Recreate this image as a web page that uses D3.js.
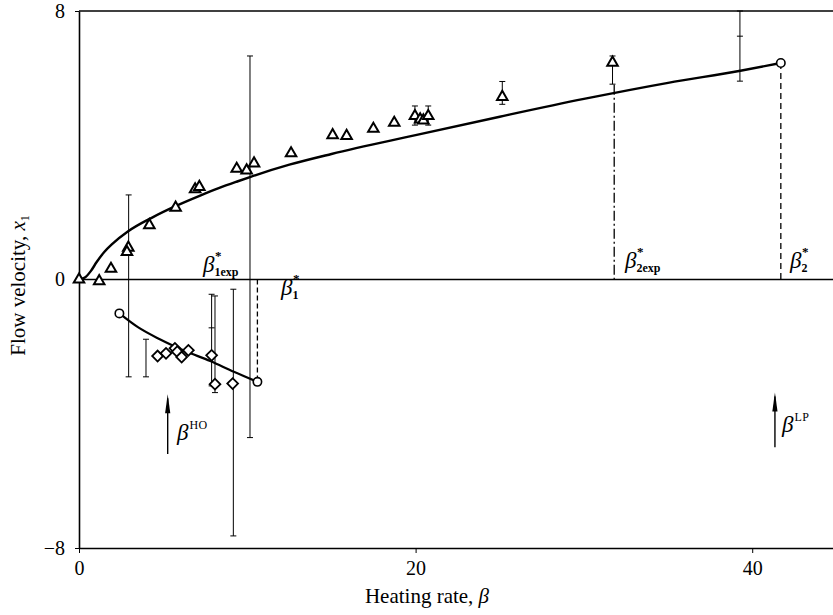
<!DOCTYPE html>
<html>
<head>
<meta charset="utf-8">
<script src="https://cdn.jsdelivr.net/npm/d3@7"></script>
<style>
  body { margin: 0; background: #fff; }
  svg { font-family: "Liberation Serif", "Times New Roman", serif; }
</style>
</head>
<body>
<script>
// upper branch measurements (triangles)
const triBeta = [0, 1.2, 1.9, 2.93, 2.85, 4.18, 5.74, 6.9, 7.15, 9.37, 9.96, 10.4, 12.6, 15.07, 15.9, 17.49, 18.73, 19.96, 20.27, 20.46, 20.75, 25.15, 31.7];
const triX1   = [0, -0.05, 0.32, 0.95, 0.82, 1.62, 2.14, 2.69, 2.76, 3.3, 3.25, 3.46, 3.76, 4.3, 4.28, 4.49, 4.67, 4.87, 4.77, 4.74, 4.87, 5.44, 6.46];

// lower branch measurements (diamonds)
const diaBeta = [4.67, 5.17, 5.7, 5.84, 6.1, 6.5, 7.88, 8.08, 9.13];
const diaX1   = [-2.28, -2.2, -2.05, -2.15, -2.31, -2.11, -2.26, -3.12, -3.1];

// error bars: beta, low end, high end
const errBeta = [2.95, 3.98, 7.88, 8.08, 9.17, 10.16, 19.96, 20.75, 25.15, 31.7, 39.27];
const errLow  = [-2.9, -2.9, -3.17, -3.37, -7.64, -4.71, 4.6, 4.6, 5.22, 5.82, 5.91];
const errHigh = [2.52, -1.78, -0.44, -0.49, -0.29, 6.66, 5.17, 5.17, 5.9, 6.66, 8];
// extra cross marks sitting on some bars
const markBeta = [7.88, 39.27];
const markX1   = [-1.44, 7.25];

// theoretical curves
const upperBeta = [0, 0.35, 0.7, 1.05, 1.5, 2.0, 2.9, 4.4, 5.8, 7.2, 8.3, 9.4, 10.2, 12.5, 15, 20, 25, 30, 35, 39.3, 41.7];
const upperX1   = [0, 0.06, 0.25, 0.52, 0.82, 1.07, 1.43, 1.86, 2.2, 2.5, 2.72, 2.92, 3.06, 3.42, 3.74, 4.3, 4.85, 5.38, 5.86, 6.22, 6.45];
const lowerBeta = [2.4, 3.5, 4.8, 6.3, 7.8, 9.2, 10.6];
const lowerX1   = [-1.01, -1.42, -1.78, -2.13, -2.43, -2.75, -3.05];

// curve end points (open circles)
const endBeta = [2.4, 10.6, 41.7];
const endX1   = [-1.01, -3.05, 6.45];

// dashed guide lines
const guideBeta = [10.6, 31.8, 41.7];
const guideFrom = [0, 5.8, 6.45];
const guideTo   = [-3.05, 0, 0];

const xTicks = [0, 20, 40];
const yTicks = [-8, 0, 8];

const W = 833, H = 615;
const margin = {top: 11, right: 0, bottom: 67, left: 79};

const svg = d3.select("body").append("svg")
  .attr("width", W)
  .attr("height", H);

const x = d3.scaleLinear().domain([0, 44.8]).range([margin.left, W - margin.right]);
const y = d3.scaleLinear().domain([-8, 8]).range([H - margin.bottom, margin.top]);

// axes
svg.append("g")
  .attr("transform", "translate(0," + y(-8) + ")")
  .call(d3.axisBottom(x).tickValues(xTicks).tickSize(5).tickSizeOuter(0).tickPadding(8))
  .call(g => g.select(".domain").attr("stroke-width", 1.6))
  .call(g => g.selectAll("text").attr("font-size", 20).attr("font-family", "Liberation Serif"));

svg.append("g")
  .attr("transform", "translate(" + x(0) + ",0)")
  .call(d3.axisLeft(y).tickValues(yTicks).tickSize(4).tickSizeOuter(0).tickPadding(10))
  .call(g => g.select(".domain").attr("stroke-width", 1.6))
  .call(g => g.selectAll("text").attr("font-size", 20).attr("font-family", "Liberation Serif"));

// top frame line and zero line
svg.append("line")
  .attr("x1", x(0)).attr("x2", W).attr("y1", y(8)).attr("y2", y(8))
  .attr("stroke", "#000").attr("stroke-width", 1.6);
svg.append("line")
  .attr("x1", x(0)).attr("x2", W).attr("y1", y(0)).attr("y2", y(0))
  .attr("stroke", "#000").attr("stroke-width", 1.3);

// axis titles
svg.append("text")
  .attr("x", 427).attr("y", 603)
  .attr("text-anchor", "middle")
  .attr("font-size", 21)
  .html('Heating rate, <tspan font-style="italic">β</tspan>');

svg.append("text")
  .attr("transform", "translate(25," + (y(0) + 6) + ") rotate(-90)")
  .attr("text-anchor", "middle")
  .attr("font-size", 21)
  .html('Flow velocity, <tspan font-style="italic">x</tspan><tspan font-size="12" dy="4">1</tspan>');

// error bars
const bars = svg.append("g").attr("stroke", "#000").attr("stroke-width", 1);
errBeta.forEach((b, i) => {
  bars.append("line")
    .attr("x1", x(b)).attr("x2", x(b))
    .attr("y1", y(Math.min(errHigh[i], 8))).attr("y2", y(errLow[i]));
  [errLow[i], errHigh[i]].forEach(v => {
    bars.append("line")
      .attr("x1", x(b) - 3).attr("x2", x(b) + 3)
      .attr("y1", y(v)).attr("y2", y(v));
  });
});
markBeta.forEach((b, i) => {
  bars.append("line")
    .attr("x1", x(b) - 3).attr("x2", x(b) + 3)
    .attr("y1", y(markX1[i])).attr("y2", y(markX1[i]));
});

// dashed guides
const dashes = ["5,3", "10,3,2,3", "6,4"];
guideBeta.forEach((b, i) => {
  svg.append("line")
    .attr("x1", x(b)).attr("x2", x(b))
    .attr("y1", y(guideFrom[i])).attr("y2", y(guideTo[i]))
    .attr("stroke", "#000").attr("stroke-width", 1.3)
    .attr("stroke-dasharray", dashes[i]);
});

// curves
const line = d3.line()
  .x(d => x(d[0])).y(d => y(d[1]))
  .curve(d3.curveMonotoneX);

svg.append("path")
  .datum(d3.zip(upperBeta, upperX1))
  .attr("d", line)
  .attr("fill", "none").attr("stroke", "#000").attr("stroke-width", 2.4);

svg.append("path")
  .datum(d3.zip(lowerBeta, lowerX1))
  .attr("d", line)
  .attr("fill", "none").attr("stroke", "#000").attr("stroke-width", 2.2);

// markers
svg.append("g").selectAll("path")
  .data(d3.zip(triBeta, triX1))
  .join("path")
  .attr("d", d3.symbol(d3.symbolTriangle, 48))
  .attr("transform", d => "translate(" + x(d[0]) + "," + y(d[1]) + ")")
  .attr("fill", "#fff").attr("stroke", "#000").attr("stroke-width", 2);

svg.append("g").selectAll("path")
  .data(d3.zip(diaBeta, diaX1))
  .join("path")
  .attr("d", d3.symbol(d3.symbolSquare, 58))
  .attr("transform", d => "translate(" + x(d[0]) + "," + y(d[1]) + ") rotate(45)")
  .attr("fill", "#fff").attr("stroke", "#000").attr("stroke-width", 1.8);

svg.append("g").selectAll("circle")
  .data(d3.zip(endBeta, endX1))
  .join("circle")
  .attr("cx", d => x(d[0])).attr("cy", d => y(d[1]))
  .attr("r", 4.2)
  .attr("fill", "#fff").attr("stroke", "#000").attr("stroke-width", 1.6);

// arrows
const arrowBeta = [5.27, 41.35];
const arrowFrom = [-5.2, -5.0];
const arrowTo   = [-3.42, -3.37];
arrowBeta.forEach((b, i) => {
  const ax = x(b), top = y(arrowTo[i]);
  svg.append("line")
    .attr("x1", ax).attr("x2", ax)
    .attr("y1", y(arrowFrom[i])).attr("y2", top + 4)
    .attr("stroke", "#000").attr("stroke-width", 1.4);
  svg.append("path")
    .attr("d", `M${ax},${top} L${ax + 2.6},${top + 19} L${ax - 2.6},${top + 19} Z`)
    .attr("fill", "#000");
});

// beta labels: anchor beta, anchor x1, superscript, subscript
const labBeta = [7.37, 12.0, 32.44, 42.25, 5.82, 41.77];
const labX1   = [0.22, -0.46, 0.34, 0.34, -4.78, -4.54];
const labSup  = ["*", "*", "*", "*", "HO", "LP"];
const labSub  = ["1exp", "1", "2exp", "2", "", ""];

labBeta.forEach((b, i) => {
  const lx = x(b), ly = y(labX1[i]);
  const t = svg.append("text")
    .attr("x", lx).attr("y", ly)
    .attr("font-size", 23).attr("font-style", "italic")
    .text("β");
  const w = t.node().getComputedTextLength();
  if (labSup[i] === "*") {
    svg.append("text")
      .attr("x", lx + w + 0.5).attr("y", ly - 12)
      .attr("font-size", 13).attr("font-weight", "bold")
      .text("*");
    svg.append("text")
      .attr("x", lx + w).attr("y", ly + 4)
      .attr("font-size", 12).attr("font-weight", "bold")
      .text(labSub[i]);
  } else {
    svg.append("text")
      .attr("x", lx + w + 1).attr("y", ly - 11)
      .attr("font-size", 12)
      .attr("letter-spacing", 0.5)
      .text(labSup[i]);
  }
});
</script>
</body>
</html>
